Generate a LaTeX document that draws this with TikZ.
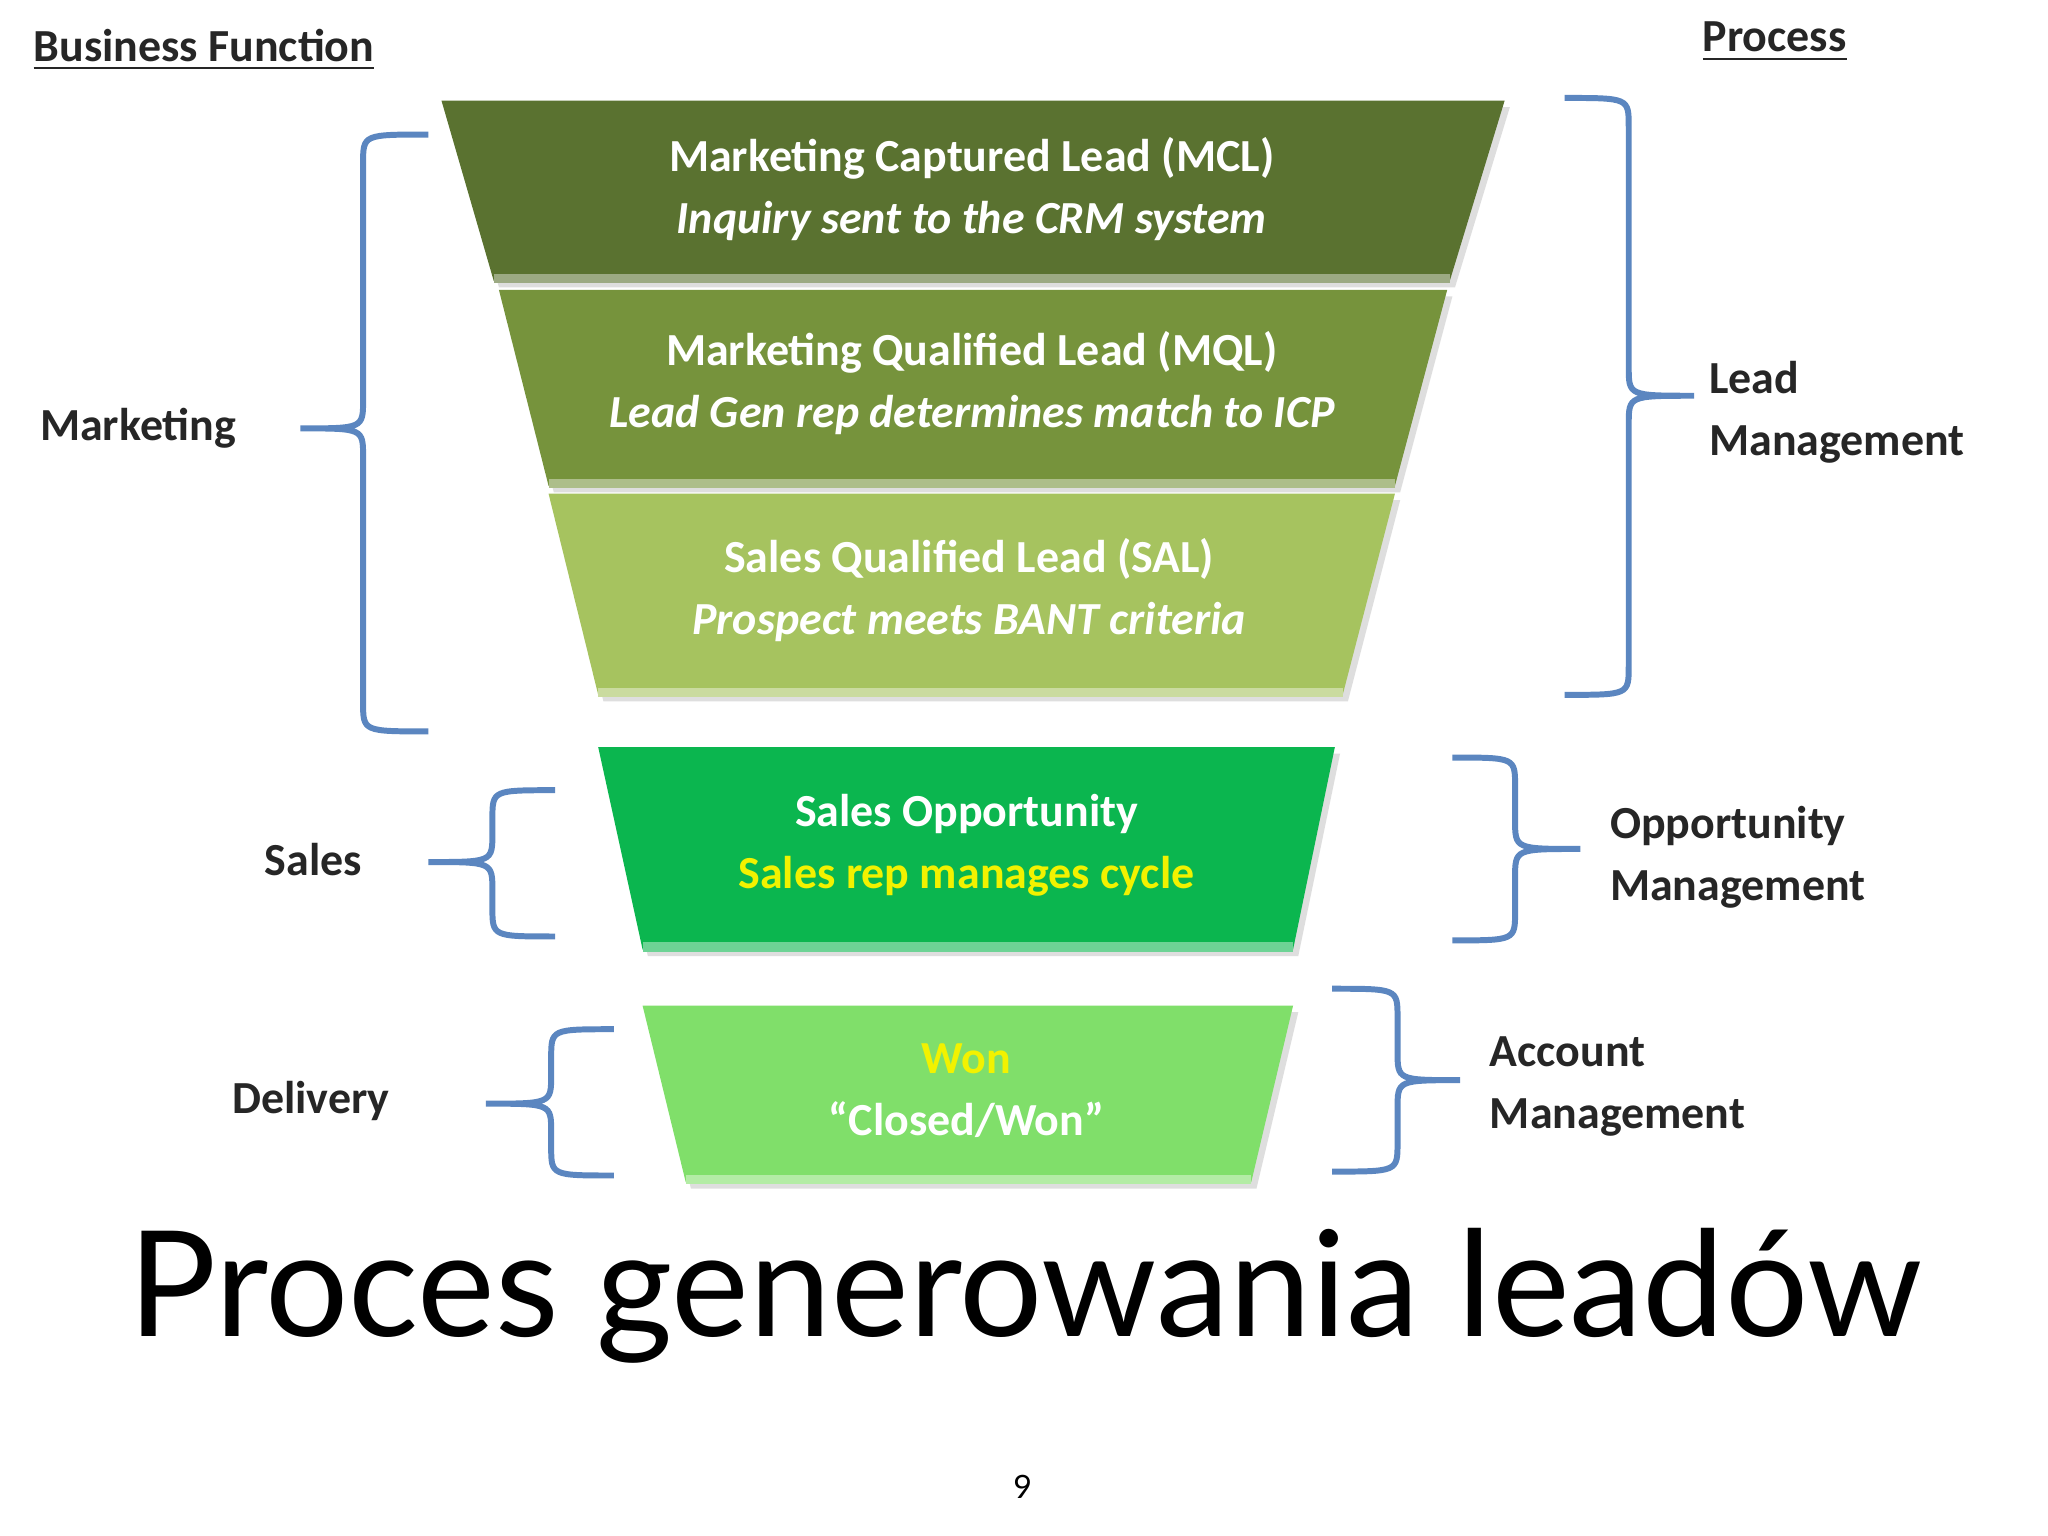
\documentclass[tikz,border=0pt]{standalone}
\usepackage{fontspec}
\setmainfont{Carlito}
\newfontfamily\titlefont{Lato}
\begin{document}
\begin{tikzpicture}[x=0.01cm,y=-0.01cm,
  brace/.style={draw=braceblue,line width=1.3pt},
  lbl/.style={font=\fontsize{10}{13.5}\selectfont\bfseries,text=black!85,anchor=west,align=left,inner sep=0},
  ftxt/.style={font=\fontsize{10}{13.5}\selectfont\bfseries,text=white,align=center,inner sep=0}]
\definecolor{braceblue}{HTML}{5B86C0}
\definecolor{c1}{HTML}{5A7230}
\definecolor{c2}{HTML}{76933C}
\definecolor{c3}{HTML}{A6C35F}
\definecolor{c4}{HTML}{0BB64F}
\definecolor{c5}{HTML}{80DF6A}
\definecolor{yel}{HTML}{F2F200}
\useasboundingbox (0,0) rectangle (1568,1176);
\fill[white] (0,0) rectangle (1568,1176);
% funnel segments
\newcommand{\seg}[7]{%
 \fill[black!25,opacity=.5] (#2+4,#1+5) -- (#3+4,#1+5) -- (#6+4,#4+5) -- (#5+4,#4+5) -- cycle;
 \fill[#7] (#2,#1) -- (#3,#1) -- (#6,#4) -- (#5,#4) -- cycle;
 \draw[#7!60!white,line width=2pt] (#5,#4-2) -- (#6,#4-2);}
\seg{77}{338}{1152}{215}{378}{1110}{c1}
\seg{222}{382}{1108}{372}{420}{1068}{c2}
\seg{378}{420}{1068}{532}{458}{1028}{c3}
\seg{572}{458}{1022}{727}{492}{990}{c4}
\seg{770}{492}{990}{905}{525}{958}{c5}
\node[ftxt] (t1) at (744,145) {Marketing Captured Lead (MCL)\\\itshape Inquiry sent to the CRM system};
\node[ftxt] (t2) at (744,293) {Marketing Qualified Lead (MQL)\\\itshape Lead Gen rep determines match to ICP};
\node[ftxt] (t3) at (742,452) {Sales Qualified Lead (SAL)\\\itshape Prospect meets BANT criteria};
\node[ftxt] (t4) at (740,647) {Sales Opportunity\\\textcolor{yel}{Sales rep manages cycle}};
\node[ftxt] (t5) at (740,835) {\textcolor{yel}{Won}\\“Closed/Won”};
% braces
\newcommand{\lbr}[5]{% tip spine top bot point ; mid computed
 \draw[brace] (#1,#3) .. controls (#2,#3) .. (#2,#3+22) -- (#2,{(#3+#4)/2-22}) .. controls (#2,{(#3+#4)/2}) .. (#5,{(#3+#4)/2}) .. controls (#2,{(#3+#4)/2}) .. (#2,{(#3+#4)/2+22}) -- (#2,#4-22) .. controls (#2,#4) .. (#1,#4);}
\newcommand{\brm}[6]{% tip spine top bot point mid
 \draw[brace] (#1,#3) .. controls (#2,#3) .. (#2,#3+22) -- (#2,#6-22) .. controls (#2,#6) .. (#5,#6) .. controls (#2,#6) .. (#2,#6+22) -- (#2,#4-22) .. controls (#2,#4) .. (#1,#4);}
\brm{328}{278}{103}{560}{230}{328}
\brm{425}{377}{605}{717}{328}{660}
\brm{470}{422}{788}{900}{372}{845}
\brm{1198}{1247}{75}{532}{1297}{303}
\brm{1112}{1160}{580}{720}{1210}{650}
\brm{1020}{1070}{757}{897}{1118}{827}
% labels
\node[lbl] (bf) at (25,38) {\underline{Business Function}};
\node[lbl] (pr) at (1303,32) {\underline{Process}};
\node[lbl] (mk) at (30,328) {Marketing};
\node[lbl] (sa) at (202,658) {Sales};
\node[lbl] (de) at (177,843) {Delivery};
\node[lbl] (lm) at (1308,316) {Lead\\Management};
\node[lbl] (om) at (1232,656) {Opportunity\\Management};
\node[lbl] (am) at (1140,832) {Account\\Management};
\node[font=\titlefont\fontsize{32}{36}\selectfont,inner sep=0] (title) at (785,992) {Proces generowania leadów};
\node[font=\titlefont\fontsize{7}{8}\selectfont,inner sep=0] (pg) at (783,1138) {9};
\end{tikzpicture}
\end{document}
